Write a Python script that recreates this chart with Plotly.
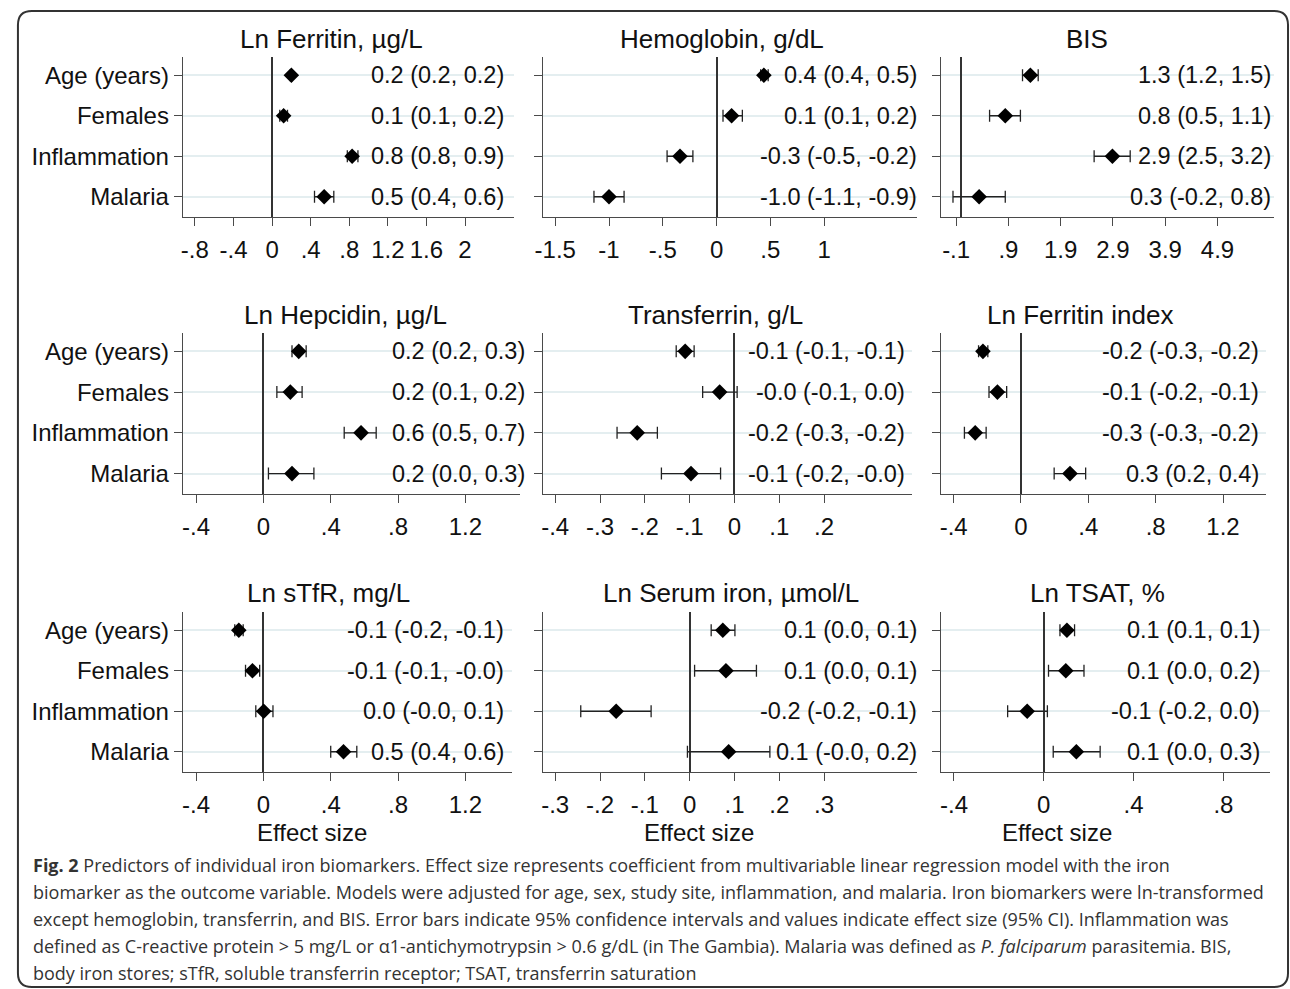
import plotly.graph_objects as go

# ---------------- data ----------------
categories = ["Age (years)", "Females", "Inflammation", "Malaria"]

titles = ["Ln Ferritin, µg/L", "Hemoglobin, g/dL", "BIS",
          "Ln Hepcidin, µg/L", "Transferrin, g/L", "Ln Ferritin index",
          "Ln sTfR, mg/L", "Ln Serum iron, µmol/L", "Ln TSAT, %"]

est = [
    [0.20, 0.12, 0.83, 0.54],
    [0.44, 0.14, -0.34, -1.00],
    [1.32, 0.84, 2.89, 0.34],
    [0.21, 0.16, 0.58, 0.17],
    [-0.11, -0.033, -0.217, -0.097],
    [-0.226, -0.14, -0.272, 0.291],
    [-0.146, -0.065, 0.002, 0.476],
    [0.074, 0.081, -0.164, 0.087],
    [0.103, 0.098, -0.074, 0.145],
]
lower = [
    [0.19, 0.08, 0.78, 0.44],
    [0.41, 0.06, -0.46, -1.14],
    [1.17, 0.54, 2.54, -0.16],
    [0.17, 0.08, 0.48, 0.03],
    [-0.13, -0.071, -0.262, -0.163],
    [-0.252, -0.19, -0.336, 0.197],
    [-0.17, -0.106, -0.045, 0.40],
    [0.048, 0.011, -0.243, -0.005],
    [0.072, 0.021, -0.161, 0.042],
]
upper = [
    [0.21, 0.16, 0.89, 0.64],
    [0.48, 0.24, -0.22, -0.86],
    [1.47, 1.13, 3.23, 0.84],
    [0.254, 0.23, 0.67, 0.30],
    [-0.09, 0.006, -0.172, -0.031],
    [-0.197, -0.085, -0.207, 0.384],
    [-0.12, -0.022, 0.057, 0.555],
    [0.101, 0.149, -0.086, 0.179],
    [0.137, 0.179, 0.016, 0.251],
]

tick_values = [
    [-0.8, -0.4, 0, 0.4, 0.8, 1.2, 1.6, 2],
    [-1.5, -1, -0.5, 0, 0.5, 1],
    [-0.1, 0.9, 1.9, 2.9, 3.9, 4.9],
    [-0.4, 0, 0.4, 0.8, 1.2],
    [-0.4, -0.3, -0.2, -0.1, 0, 0.1, 0.2],
    [-0.4, 0, 0.4, 0.8, 1.2],
    [-0.4, 0, 0.4, 0.8, 1.2],
    [-0.3, -0.2, -0.1, 0, 0.1, 0.2, 0.3],
    [-0.4, 0, 0.4, 0.8],
]
tick_labels = [
    ["-.8", "-.4", "0", ".4", ".8", "1.2", "1.6", "2"],
    ["-1.5", "-1", "-.5", "0", ".5", "1"],
    ["-.1", ".9", "1.9", "2.9", "3.9", "4.9"],
    ["-.4", "0", ".4", ".8", "1.2"],
    ["-.4", "-.3", "-.2", "-.1", "0", ".1", ".2"],
    ["-.4", "0", ".4", ".8", "1.2"],
    ["-.4", "0", ".4", ".8", "1.2"],
    ["-.3", "-.2", "-.1", "0", ".1", ".2", ".3"],
    ["-.4", "0", ".4", ".8"],
]
x_ranges = [
    [-0.924, 2.506], [-1.617, 1.867], [-0.386, 5.983],
    [-0.478, 1.523], [-0.428, 0.397], [-0.474, 1.456],
    [-0.478, 1.476], [-0.328, 0.508], [-0.457, 1.008],
]

caption_lines = [
    "<b>Fig. 2</b> Predictors of individual iron biomarkers. Effect size represents coefficient from multivariable linear regression model with the iron",
    "biomarker as the outcome variable. Models were adjusted for age, sex, study site, inflammation, and malaria. Iron biomarkers were ln-transformed",
    "except hemoglobin, transferrin, and BIS. Error bars indicate 95% confidence intervals and values indicate effect size (95% CI). Inflammation was",
    "defined as C-reactive protein &gt; 5 mg/L or α1-antichymotrypsin &gt; 0.6 g/dL (in The Gambia). Malaria was defined as <i>P. falciparum</i> parasitemia. BIS,",
    "body iron stores; sTfR, soluble transferrin receptor; TSAT, transferrin saturation",
]

# ---------------- layout constants (pixels) ----------------
W, H = 1290, 989
col_left = [176, 538, 939]
panel_right = [509, 915, 1274, 515, 910, 1266, 507, 915, 1270]
row_top = [57, 333, 612]
row_bot = [217, 494, 772]
text_right = [501, 917, 1273, 522, 905, 1261, 501, 917, 1262]
title_cx = [326, 718, 1086, 340, 712, 1079, 323, 728, 1096]
title_cy = [39, 315, 593]
xtitle_cx = [306, 695, 1056]
xtitle_cy = 832
caption_y = [865, 892, 919, 946, 973]

FONT = "Liberation Sans, Arial, Helvetica, sans-serif"
AX = "#4a4a4a"
FS = 24
FV = 23.5

def px(x):
    return x / W

def py(y):
    return 1 - y / H

def fmt(v):
    return f"{v:.1f}"

fig = go.Figure()
annotations = []
layout = {}

for i in range(9):
    r, c = divmod(i, 3)
    n = "" if i == 0 else str(i + 1)
    xa, ya = "xaxis" + n, "yaxis" + n
    xr, yr = "x" + n, "y" + n
    e, lo, hi = est[i], lower[i], upper[i]
    ypos = [k + 1 for k in range(len(categories))]
    fig.add_trace(go.Scatter(
        x=e, y=ypos, xaxis=xr, yaxis=yr, mode="markers",
        marker=dict(symbol="diamond", size=12, color="black"),
        error_x=dict(type="data", symmetric=False,
                     array=[h - v for h, v in zip(hi, e)],
                     arrayminus=[v - l for v, l in zip(e, lo)],
                     color="#222222", thickness=1.3, width=6),
        showlegend=False, hoverinfo="skip"))
    layout[xa] = dict(
        domain=[px(col_left[c]), px(panel_right[i])], anchor=yr,
        range=x_ranges[i], tickvals=tick_values[i], ticktext=tick_labels[i],
        showline=True, linecolor=AX, linewidth=1.3, ticks="outside",
        ticklen=8, tickcolor=AX, tickwidth=1.3, showgrid=False,
        zeroline=True, zerolinecolor="#333333", zerolinewidth=1.5,
        tickfont=dict(family=FONT, size=FS, color="#111111"),
        ticklabelstandoff=3, fixedrange=True)
    layout[ya] = dict(
        domain=[py(row_bot[r]), py(row_top[r])], anchor=xr,
        range=[4.5, 0.55], tickvals=ypos,
        ticktext=categories if c == 0 else [""] * 4,
        showline=True, linecolor=AX, linewidth=1.3, ticks="outside",
        ticklen=8, tickcolor=AX, tickwidth=1.3,
        showgrid=True, gridcolor="#e4eef0", gridwidth=1.5,
        zeroline=False,
        tickfont=dict(family=FONT, size=FS, color="#111111"), fixedrange=True)
    for k in range(len(categories)):
        annotations.append(dict(
            x=px(text_right[i]), xref="paper", y=ypos[k], yref=yr,
            text=f"{fmt(e[k])} ({fmt(lo[k])}, {fmt(hi[k])})",
            showarrow=False, xanchor="right", yanchor="middle",
            font=dict(family=FONT, size=FV, color="#111111")))
    annotations.append(dict(
        x=px(title_cx[i]), y=py(title_cy[r]), xref="paper", yref="paper",
        text=titles[i], showarrow=False, xanchor="center", yanchor="middle",
        font=dict(family=FONT, size=26, color="#111111")))

for c in range(3):
    annotations.append(dict(
        x=px(xtitle_cx[c]), y=py(xtitle_cy), xref="paper", yref="paper",
        text="Effect size", showarrow=False, xanchor="center", yanchor="middle",
        font=dict(family=FONT, size=FS, color="#111111")))

for k, line in enumerate(caption_lines):
    annotations.append(dict(
        x=px(23), y=py(caption_y[k]), xref="paper", yref="paper",
        text=line, showarrow=False, xanchor="left", yanchor="middle",
        align="left",
        font=dict(family="Open Sans, Noto Sans, sans-serif", size=18, color="#333333")))

# rounded frame
x0, y0, x1, y1, rr = px(10), py(987), px(1288), py(11), 14
rx, ry = rr / W, rr / H
path = (f"M {x0 + rx},{y1} L {x1 - rx},{y1} Q {x1},{y1} {x1},{y1 - ry} "
        f"L {x1},{y0 + ry} Q {x1},{y0} {x1 - rx},{y0} L {x0 + rx},{y0} "
        f"Q {x0},{y0} {x0},{y0 + ry} L {x0},{y1 - ry} Q {x0},{y1} {x0 + rx},{y1} Z")

fig.update_layout(
    width=W, height=H, margin=dict(l=0, r=0, t=0, b=0),
    paper_bgcolor="white", plot_bgcolor="white",
    annotations=annotations,
    shapes=[dict(type="path", path=path, xref="paper", yref="paper",
                 line=dict(color="#333333", width=2), layer="below")],
    **layout)

fig.write_html("out.html", config={"displayModeBar": False})
